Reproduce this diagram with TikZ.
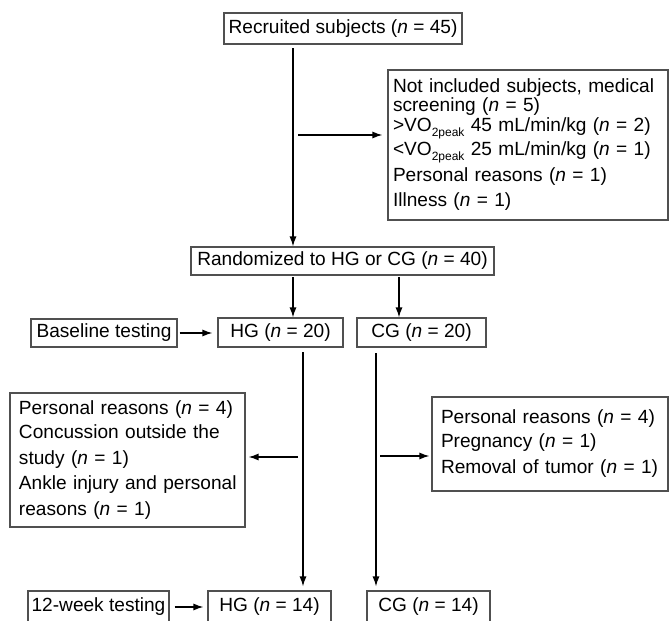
\documentclass[tikz,border=0pt]{standalone}
\usepackage{fontspec}
\setmainfont{Liberation Sans}
\usepackage{graphicx}
\usetikzlibrary{arrows.meta}
\definecolor{boxgray}{RGB}{80,80,80}
\newcommand\vosub{\raisebox{-5pt}{\fontsize{12}{12}\selectfont 2peak}}
\newcommand\nn{\textit{n}}
\begin{document}
\begin{tikzpicture}[x=1pt,y=-1pt,
  box/.style={draw=boxgray, line width=1.1pt, inner sep=0pt, text=black,
    font=\fontsize{19.1}{25}\selectfont},
  multibox/.style={box, align=left, inner xsep=#1},
  arr/.style={draw=black, line width=1.3pt, -{Latex[length=10pt,width=7pt]}}]
\clip (0,0) rectangle (670,621);
\useasboundingbox (0,0) rectangle (670,621);

% boxes
\node[box, minimum width=238pt, minimum height=31pt] (rec) at (343,28.5)
  {Recruited subjects (\nn{} = 45)};
\node[multibox=5pt, text width=270pt, minimum height=150pt] (notinc) at (528,145)
  {\mbox{Not included subjects, medical}\\[-6pt]
   \mbox{screening (\nn{} = 5)}\\[-5pt]
   \mbox{>VO\vosub{} 45 mL/min/kg (\nn{} = 2)}\\[-1pt]
   \mbox{<VO\vosub{} 25 mL/min/kg (\nn{} = 1)}\\[1pt]
   \mbox{Personal reasons (\nn{} = 1)}\\
   \mbox{Illness (\nn{} = 1)}};
\node[box, minimum width=303pt, minimum height=28pt] (rand) at (342.5,261)
  {Randomized to HG or CG (\nn{} = 40)};
\node[box, minimum width=146pt, minimum height=28pt] (base) at (104,333)
  {Baseline testing};
\node[box, minimum width=125pt, minimum height=29pt] (hg20) at (280.5,332.5)
  {HG (\nn{} = 20)};
\node[box, minimum width=129pt, minimum height=29pt] (cg20) at (421.5,332.5)
  {CG (\nn{} = 20)};
\node[multibox=9pt, text width=217pt, minimum height=134pt] (left) at (127.5,460)
  {\mbox{Personal reasons (\nn{} = 4)}\\[-1pt]
   \mbox{Concussion outside the}\\[1pt]
   \mbox{study (\nn{} = 1)}\\
   \mbox{Ankle injury and personal}\\[1pt]
   \mbox{reasons (\nn{} = 1)}};
\node[multibox=9pt, text width=218pt, minimum height=94pt] (right) at (550,444)
  {\mbox{Personal reasons (\nn{} = 4)}\\[-1pt]
   \mbox{Pregnancy (\nn{} = 1)}\\[1pt]
   \mbox{Removal of tumor (\nn{} = 1)}};
\node[box, minimum width=141pt, minimum height=32pt] (week) at (98.5,607)
  {12-week testing};
\node[box, minimum width=123pt, minimum height=32pt] (hg14) at (269.5,607)
  {HG (\nn{} = 14)};
\node[box, minimum width=123pt, minimum height=32pt] (cg14) at (428.5,607)
  {CG (\nn{} = 14)};

% connectors
\coordinate (t0) at (293,48);
\draw[arr] (t0) -- (t0 |- rand.north);
\coordinate (b0) at (298,135);
\draw[arr, shorten >=5pt] (b0) -- (b0 -| notinc.west);
\coordinate (r1) at (293,277);
\draw[arr] (r1) -- (r1 |- hg20.north);
\coordinate (r2) at (399,277);
\draw[arr] (r2) -- (r2 |- cg20.north);
\draw[arr, shorten <=2pt, shorten >=5pt] (base.east) -- (hg20.west |- base.east);
\coordinate (h1) at (303,352);
\draw[arr, shorten >=4pt] (h1) -- (h1 |- hg14.north);
\coordinate (g1) at (376,353);
\draw[arr, shorten >=4pt] (g1) -- (g1 |- cg14.north);
\coordinate (l1) at (298,457);
\draw[arr, shorten >=3pt] (l1) -- (l1 -| left.east);
\coordinate (q1) at (380,456);
\draw[arr, shorten >=2pt] (q1) -- (q1 -| right.west);
\draw[arr, shorten <=5pt, shorten >=4pt] (week.east) -- (hg14.west |- week.east);
\end{tikzpicture}
\end{document}
